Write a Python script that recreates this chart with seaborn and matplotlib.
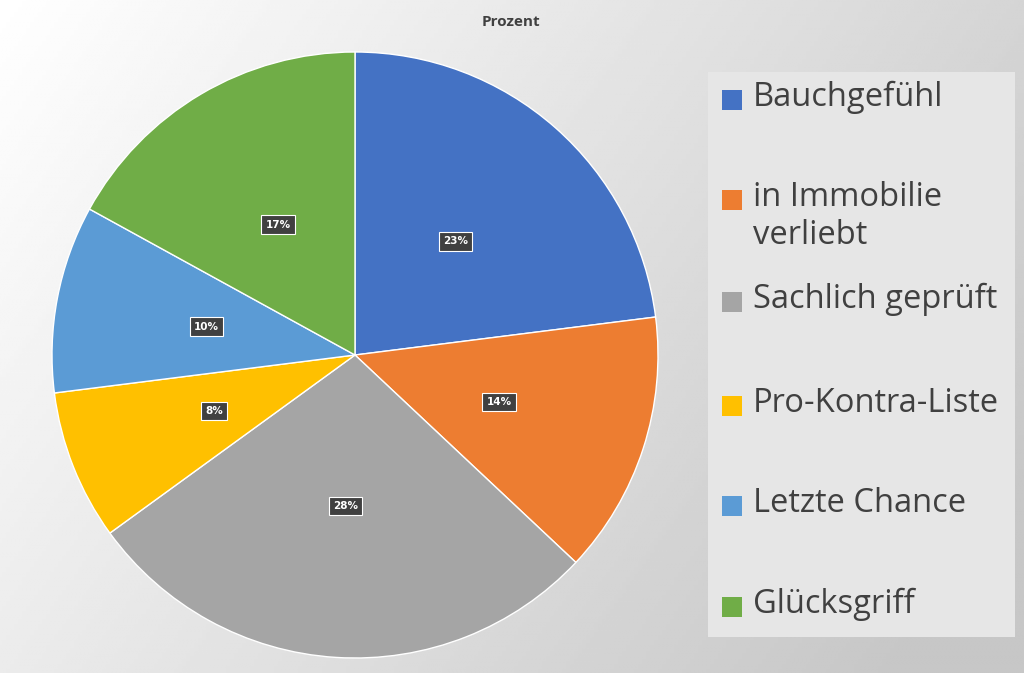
import numpy as np
import matplotlib
matplotlib.use("Agg")
import matplotlib.pyplot as plt
import seaborn as sns
from matplotlib.patches import Rectangle

categories = ["Bauchgefühl", "in Immobilie\nverliebt", "Sachlich geprüft", "Pro-Kontra-Liste", "Letzte Chance", "Glücksgriff"]
values = [23, 14, 28, 8, 10, 17]
colors = ["#4472C4", "#ED7D31", "#A5A5A5", "#FFC000", "#5B9BD5", "#70AD47"]
title = "Prozent"

sns.set_theme(style="white")
W, H = 1024, 673
fig = plt.figure(figsize=(W/100, H/100), dpi=100)

bg = fig.add_axes([0, 0, 1, 1], zorder=-10)
xx, yy = np.meshgrid(np.linspace(0, 1, 256), np.linspace(0, 1, 256))
g = 1.0 - 0.22 * np.clip(0.75*xx + 0.35*yy, 0, 1)
bg.imshow(g, cmap="gray", vmin=0, vmax=1, extent=[0, 1, 0, 1], aspect="auto", origin="upper")
bg.axis("off")

fig.text(511/W, 1-22/H, title, ha="center", va="center", fontsize=11, fontweight="bold",
         family="Open Sans", color="#404040")

r = 303
cx, cy = 355, 355
ax = fig.add_axes([(cx-r)/W, (H-cy-r)/H, 2*r/W, 2*r/H])
wedges, _ = ax.pie(values, colors=colors, startangle=90, counterclock=False,
                   wedgeprops=dict(linewidth=1, edgecolor="white"))
ax.set_xlim(-1, 1)
ax.set_ylim(-1, 1)
ax.set_aspect("equal")
for w, v in zip(wedges, values):
    ang = np.deg2rad((w.theta1 + w.theta2) / 2)
    ax.text(0.5*np.cos(ang), 0.5*np.sin(ang), f"{v}%", ha="center", va="center",
            fontsize=7.5, fontweight="bold", color="white", family="DejaVu Sans",
            bbox=dict(boxstyle="square,pad=0.4", fc="#404040", ec="white", lw=0.8))

fig.patches.append(Rectangle((708/W, 1-637/H), 307/W, 565/H, transform=fig.transFigure,
                             fc="#E6E6E6", ec="none", zorder=1))
ys = [100, 200, 302, 406, 506, 607]
for lab, c, y in zip(categories, colors, ys):
    fig.patches.append(Rectangle((722/W, 1-(y+10)/H), 20/W, 20/H, transform=fig.transFigure,
                                 fc=c, ec="none", zorder=2))
    fig.text(753/W, 1-(y-19)/H, lab, ha="left", va="top", fontsize=23.5, family="Open Sans",
             color="#404040", linespacing=1.2, zorder=3)

fig.savefig("out.png", dpi=100)
